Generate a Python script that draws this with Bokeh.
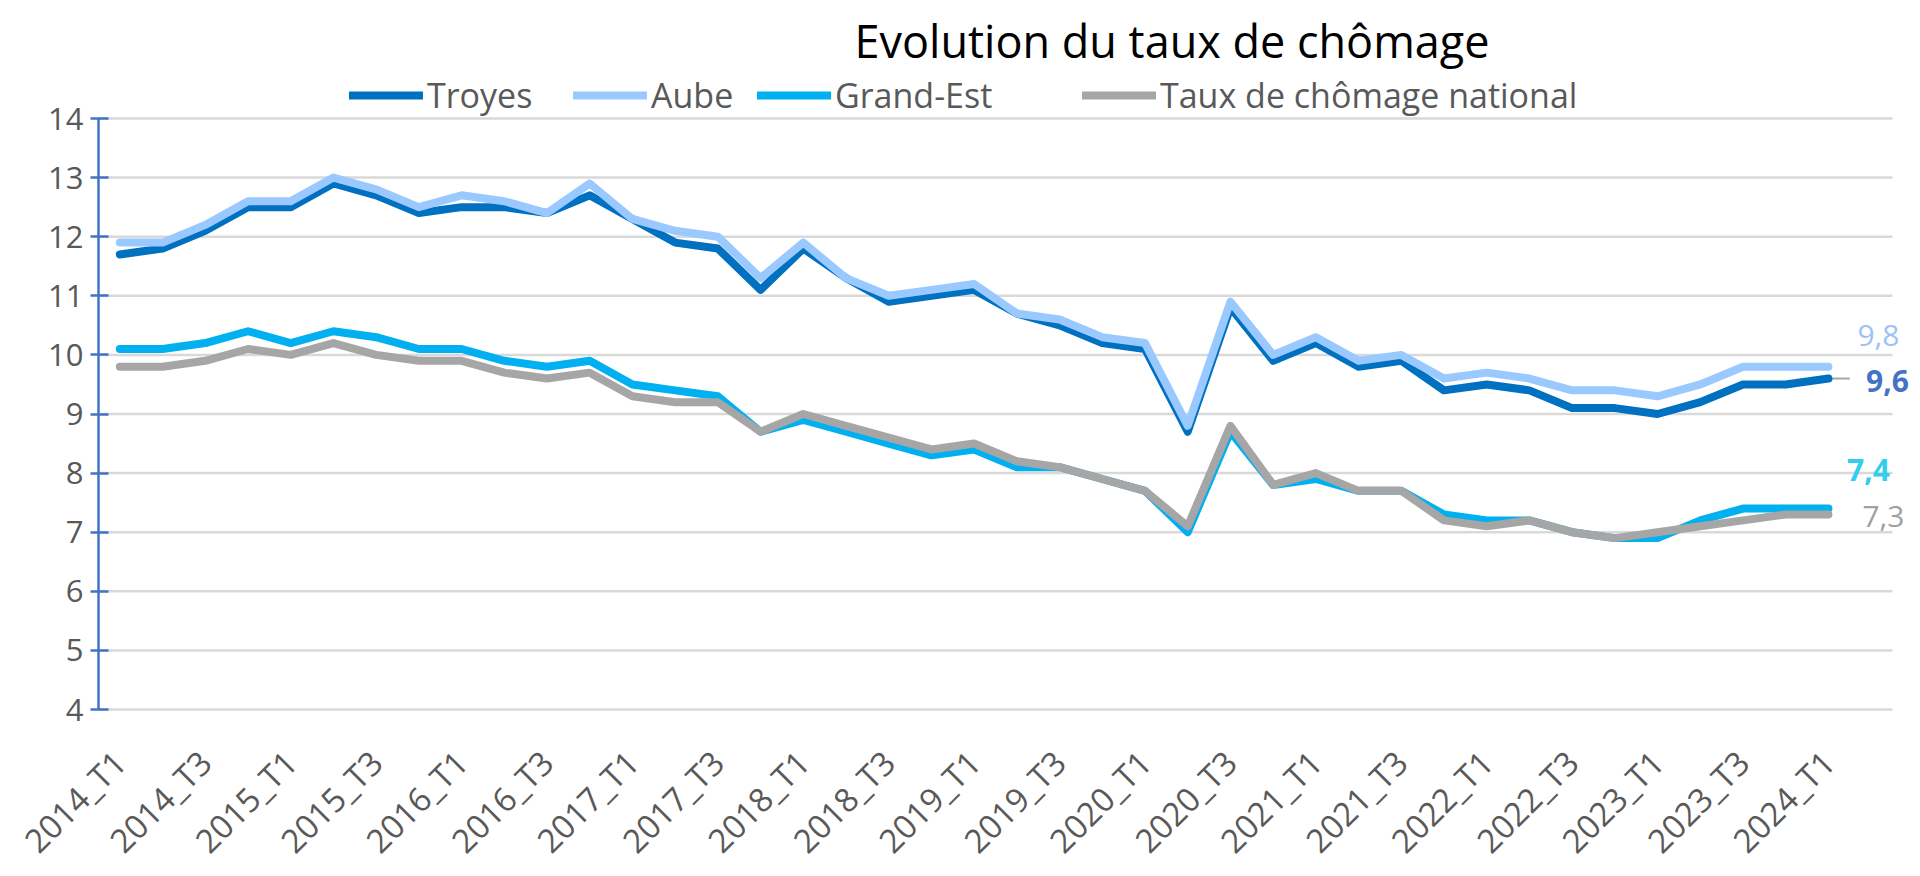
import math
from bokeh.plotting import figure
from bokeh.models import Legend, LegendItem, FixedTicker, Range1d, Label
from bokeh.embed import file_html
from bokeh.resources import INLINE
from bokeh.core.properties import value

# ---------------- data ----------------
quarters = [
    "2014_T1", "2014_T2", "2014_T3", "2014_T4",
    "2015_T1", "2015_T2", "2015_T3", "2015_T4",
    "2016_T1", "2016_T2", "2016_T3", "2016_T4",
    "2017_T1", "2017_T2", "2017_T3", "2017_T4",
    "2018_T1", "2018_T2", "2018_T3", "2018_T4",
    "2019_T1", "2019_T2", "2019_T3", "2019_T4",
    "2020_T1", "2020_T2", "2020_T3", "2020_T4",
    "2021_T1", "2021_T2", "2021_T3", "2021_T4",
    "2022_T1", "2022_T2", "2022_T3", "2022_T4",
    "2023_T1", "2023_T2", "2023_T3", "2023_T4",
    "2024_T1",
]

troyes = [11.7, 11.8, 12.1, 12.5, 12.5, 12.9, 12.7, 12.4, 12.5, 12.5,
          12.4, 12.7, 12.3, 11.9, 11.8, 11.1, 11.8, 11.3, 10.9, 11.0,
          11.1, 10.7, 10.5, 10.2, 10.1, 8.7, 10.8, 9.9, 10.2, 9.8,
          9.9, 9.4, 9.5, 9.4, 9.1, 9.1, 9.0, 9.2, 9.5, 9.5, 9.6]

aube = [11.9, 11.9, 12.2, 12.6, 12.6, 13.0, 12.8, 12.5, 12.7, 12.6,
        12.4, 12.9, 12.3, 12.1, 12.0, 11.3, 11.9, 11.3, 11.0, 11.1,
        11.2, 10.7, 10.6, 10.3, 10.2, 8.8, 10.9, 10.0, 10.3, 9.9,
        10.0, 9.6, 9.7, 9.6, 9.4, 9.4, 9.3, 9.5, 9.8, 9.8, 9.8]

grand_est = [10.1, 10.1, 10.2, 10.4, 10.2, 10.4, 10.3, 10.1, 10.1, 9.9,
             9.8, 9.9, 9.5, 9.4, 9.3, 8.7, 8.9, 8.7, 8.5, 8.3,
             8.4, 8.1, 8.1, 7.9, 7.7, 7.0, 8.7, 7.8, 7.9, 7.7,
             7.7, 7.3, 7.2, 7.2, 7.0, 6.9, 6.9, 7.2, 7.4, 7.4, 7.4]

national = [9.8, 9.8, 9.9, 10.1, 10.0, 10.2, 10.0, 9.9, 9.9, 9.7,
            9.6, 9.7, 9.3, 9.2, 9.2, 8.7, 9.0, 8.8, 8.6, 8.4,
            8.5, 8.2, 8.1, 7.9, 7.7, 7.1, 8.8, 7.8, 8.0, 7.7,
            7.7, 7.2, 7.1, 7.2, 7.0, 6.9, 7.0, 7.1, 7.2, 7.3, 7.3]

series_names = ["Troyes", "Aube", "Grand-Est", "Taux de chômage national"]
title_text = "Evolution du taux de chômage"
y_ticks = [4, 5, 6, 7, 8, 9, 10, 11, 12, 13, 14]

# ---------------- styles / layout ----------------
C_TROYES = "#0070C0"
C_AUBE = "#99C9FF"
C_GE = "#00B0F0"
C_NAT = "#A6A6A6"
FONT = "Open Sans"
TXT = "#595959"

W, H = 1916, 872
AXIS_PX, TOP_PX, BOT_PX = 98, 118, 709   # pixel positions of the y axis, 14 and 4 lines
PX_X = 1794 / 42.0                        # pixels per category slot
PX_Y = (BOT_PX - TOP_PX) / (y_ticks[-1] - y_ticks[0])


def xd(px):
    return -0.5 + (px - AXIS_PX) / PX_X


def yd(py):
    return y_ticks[-1] + (TOP_PX - py) / PX_Y


x = list(range(len(quarters)))

p = figure(width=W, height=H, output_backend="svg", toolbar_location=None,
           x_range=Range1d(xd(0), xd(W)),
           y_range=Range1d(yd(H), yd(0)),
           min_border_left=0, min_border_right=0,
           min_border_top=0, min_border_bottom=0)

p.outline_line_color = None
p.background_fill_color = "white"
p.border_fill_color = "white"

# horizontal gridlines (limited to the category area)
p.xgrid.visible = False
p.ygrid.visible = False
n_slots = len(quarters) + 1
p.segment(x0=[-0.5] * len(y_ticks), x1=[-0.5 + n_slots] * len(y_ticks),
          y0=y_ticks, y1=y_ticks, line_color="#D9D9D9", line_width=2.5)

# y axis, drawn at the left edge of the category area
p.yaxis.fixed_location = -0.5
p.yaxis.bounds = (y_ticks[0], y_ticks[-1])
p.yaxis.ticker = FixedTicker(ticks=y_ticks)
p.yaxis.axis_line_color = "#4472C4"
p.yaxis.axis_line_width = 2.5
p.yaxis.major_tick_line_color = "#4472C4"
p.yaxis.major_tick_line_width = 2.5
p.yaxis.major_tick_in = 10
p.yaxis.major_tick_out = 8
p.yaxis.minor_tick_line_color = None
p.yaxis.major_label_text_font = FONT
p.yaxis.major_label_text_font_size = "31px"
p.yaxis.major_label_text_color = TXT
p.yaxis.major_label_standoff = 7

# x axis, drawn at the 4 gridline
p.xaxis.fixed_location = y_ticks[0]
p.xaxis.ticker = FixedTicker(ticks=x[::2])
p.xaxis.major_label_overrides = {i: quarters[i] for i in x[::2]}
p.xaxis.major_label_orientation = math.pi / 4
p.xaxis.axis_line_color = None
p.xaxis.major_tick_line_color = None
p.xaxis.minor_tick_line_color = None
p.xaxis.major_tick_out = 0
p.xaxis.major_tick_in = 0
p.xaxis.major_label_text_font = FONT
p.xaxis.major_label_text_font_size = "33px"
p.xaxis.major_label_text_color = TXT
p.xaxis.major_label_standoff = 47

# leader line for Troyes label
last = x[-1]
p.segment(x0=[last], y0=[troyes[-1]], x1=[last + 0.5], y1=[troyes[-1]],
          line_color="#A6A6A6", line_width=2)

lw = 8
r1 = p.line(x, troyes, line_color=C_TROYES, line_width=lw, line_join="round", line_cap="round")
r2 = p.line(x, aube, line_color=C_AUBE, line_width=lw, line_join="round", line_cap="round")
r3 = p.line(x, grand_est, line_color=C_GE, line_width=lw, line_join="round", line_cap="round")
r4 = p.line(x, national, line_color=C_NAT, line_width=lw, line_join="round", line_cap="round")


def fr(v):
    return f"{v:.1f}".replace(".", ",")


def end_label(vals, dx, dy, color, bold, size="30px"):
    p.text(x=[last], y=[vals[-1]], text=[fr(vals[-1])], x_offset=dx, y_offset=dy,
           text_align="center", text_baseline="middle",
           text_font=value(FONT), text_font_size=size,
           text_font_style="bold" if bold else "normal", text_color=color)


end_label(aube, 50, -31, "#9CC3F5", False)
end_label(troyes, 59, 2, "#4472C4", True)
end_label(grand_est, 40, -39, "#35CDEE", True)
end_label(national, 55, 2, "#A0A0A0", False)

# title, above the legend
p.add_layout(Label(x=xd(854), y=yd(40), text=title_text,
                   text_font=FONT, text_font_size="45px", text_color="#000000",
                   text_align="left", text_baseline="alphabetic"))

# legend: one entry per block so each sits where the reference puts it
legend_px = [349, 573, 757, 1082]
for name, r, lx in zip(series_names, [r1, r2, r3, r4], legend_px):
    lg = Legend(items=[LegendItem(label=name, renderers=[r])],
                orientation="horizontal", location=(lx, H - TOP_PX),
                label_text_font=FONT, label_text_font_size="34px",
                label_text_color=TXT, glyph_width=74, glyph_height=20,
                label_standoff=4, spacing=0, padding=2, margin=0,
                border_line_color=None, background_fill_alpha=0)
    p.add_layout(lg)

open("out.html", "w").write(file_html(p, INLINE))
